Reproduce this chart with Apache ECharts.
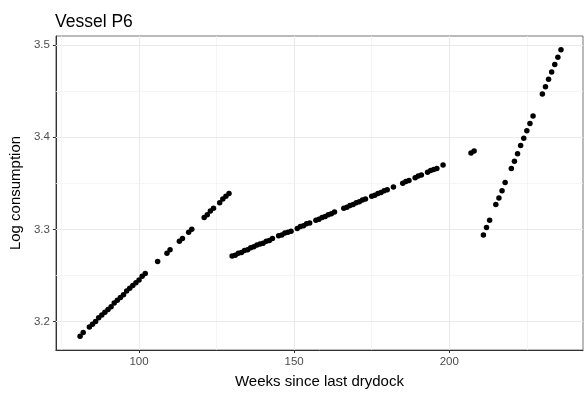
<!DOCTYPE html>
<html>
<head>
<meta charset="utf-8">
<script src="https://cdn.jsdelivr.net/npm/echarts@6/dist/echarts.min.js"></script>
<style>
  html, body { margin: 0; padding: 0; background: #fff; }
  #chart { width: 584px; height: 394px; }
</style>
</head>
<body>
<div id="chart"></div>
<script>
// weeks since drydock and log consumption
const weeks = [
  81, 82, 84, 85, 86, 87, 88, 89, 90, 91, 92, 93, 94, 95, 96, 97, 98, 99, 100, 101, 102,
  106, 109, 110, 113, 114, 116, 117, 121, 122, 123, 124, 126, 127, 128, 129,
  130, 131, 132, 133, 134, 135, 136, 137, 138, 139, 140, 141, 142, 143,
  145, 146, 147, 148, 149, 151, 152, 153, 154, 155, 157, 158, 159, 160, 161, 162, 163,
  166, 167, 168, 169, 170, 171, 172, 173, 175, 176, 177, 178, 179, 180, 182, 185,
  186, 187, 189, 190, 191, 193, 194, 195, 196, 198,
  207, 208,
  211, 212, 213, 215, 216, 217, 218, 220, 221, 222, 223, 224, 225, 226, 227,
  230, 231, 232, 233, 234, 235, 236
]
const logCons = [
  3.184, 3.188, 3.194, 3.197, 3.200, 3.204, 3.207, 3.210, 3.213, 3.216, 3.220, 3.223, 3.226, 3.229, 3.233, 3.236, 3.239, 3.242, 3.245, 3.249, 3.252,
  3.265, 3.274, 3.278, 3.287, 3.290, 3.297, 3.300, 3.313, 3.316, 3.320, 3.323, 3.329, 3.333, 3.336, 3.339,
  3.271, 3.272, 3.274, 3.275, 3.277, 3.278, 3.280, 3.281, 3.283, 3.284, 3.285, 3.287, 3.288, 3.290,
  3.293, 3.294, 3.296, 3.297, 3.298, 3.301, 3.303, 3.304, 3.306, 3.307, 3.310, 3.311, 3.313, 3.314, 3.316, 3.317, 3.319,
  3.323, 3.324, 3.326, 3.327, 3.329, 3.330, 3.332, 3.333, 3.336, 3.337, 3.339, 3.340, 3.342, 3.343, 3.346, 3.350,
  3.352, 3.353, 3.356, 3.358, 3.359, 3.362, 3.364, 3.365, 3.366, 3.370,
  3.383, 3.385,
  3.294, 3.302, 3.310, 3.327, 3.334, 3.342, 3.351, 3.366, 3.374, 3.382, 3.391, 3.399, 3.407, 3.415, 3.423,
  3.447, 3.455, 3.463, 3.471, 3.479, 3.487, 3.495
]

const xTicks = [100, 150, 200]
const xMinor = [75, 125, 175, 225]
const yTicks = [3.2, 3.3, 3.4, 3.5]
const yMinor = [3.25, 3.35, 3.45]

const points = weeks.map((w, i) => [w, logCons[i]])

const chart = echarts.init(document.getElementById('chart'))

// ggplot-style grid: major lines on ticks, fainter minor lines between
const major = { color: '#ebebeb', width: 1.1, type: 'solid' }
const minor = { color: '#f3f3f3', width: 0.8, type: 'solid' }
const gridLines = []
xTicks.forEach(v => gridLines.push({ xAxis: v, lineStyle: major }))
xMinor.forEach(v => gridLines.push({ xAxis: v, lineStyle: minor }))
yTicks.forEach(v => gridLines.push({ yAxis: v, lineStyle: major }))
yMinor.forEach(v => gridLines.push({ yAxis: v, lineStyle: minor }))

const option = {
  animation: false,
  textStyle: { fontFamily: 'Liberation Sans, Arial, sans-serif' },
  title: {
    text: 'Vessel P6',
    left: 50,
    top: 8,
    textStyle: { fontSize: 17.5, fontWeight: 'normal', color: '#000' }
  },
  grid: {
    left: 53,
    top: 36,
    right: 1,
    bottom: 41,
    show: true,
    borderColor: '#777',
    borderWidth: 1,
    backgroundColor: '#fff'
  },
  xAxis: {
    type: 'value',
    min: 73.2,
    max: 243.1,
    name: 'Weeks since last drydock',
    nameLocation: 'middle',
    nameGap: 24,
    nameTextStyle: { fontSize: 15, color: '#000' },
    axisLine: { show: true, lineStyle: { color: '#333' } },
    axisTick: { show: true, length: 3, lineStyle: { color: '#333' }, customValues: xTicks },
    axisLabel: { color: '#4d4d4d', fontSize: 11.5, margin: 6, customValues: xTicks },
    splitLine: { show: false }
  },
  yAxis: {
    type: 'value',
    min: 3.169,
    max: 3.51,
    name: 'Log consumption',
    nameLocation: 'middle',
    nameGap: 27,
    nameTextStyle: { fontSize: 15, color: '#000' },
    axisLine: { show: true, lineStyle: { color: '#333' } },
    axisTick: { show: true, length: 3, lineStyle: { color: '#333' }, customValues: yTicks },
    axisLabel: { color: '#4d4d4d', fontSize: 11.5, margin: 6, customValues: yTicks,
      formatter: v => v.toFixed(1) },
    splitLine: { show: false }
  },
  series: [
    {
      type: 'scatter',
      data: [],
      z: 1,
      markLine: {
        silent: true,
        z: 1,
        symbol: 'none',
        label: { show: false },
        animation: false,
        data: gridLines
      }
    },
    {
      type: 'scatter',
      data: points,
      symbolSize: 5.5,
      itemStyle: { color: '#000', opacity: 1 },
      z: 10
    }
  ]
}

chart.setOption(option)
</script>
</body>
</html>
